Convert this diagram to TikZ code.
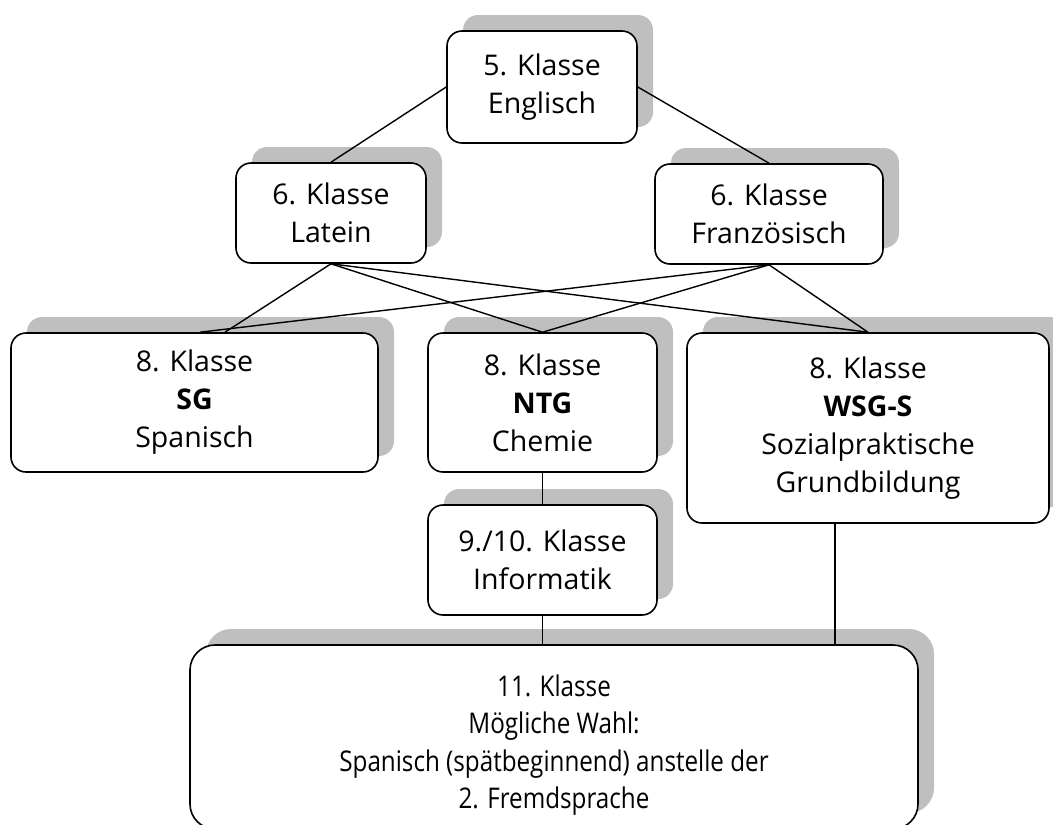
\documentclass[tikz,border=0pt]{standalone}
\usepackage{fontspec}
\setmainfont{Open Sans}
\usetikzlibrary{shadows,calc}
\definecolor{shadowgray}{HTML}{BFBFBF}
\begin{document}
\begin{tikzpicture}[x=1pt,y=-1pt,
  box/.style={draw=black, line width=1.6pt, fill=white, rounded corners=15pt,
    align=center, inner sep=0pt, font=\fontsize{28.5}{38}\selectfont,
    general shadow={fill=shadowgray, draw=none, shadow xshift=16pt, shadow yshift=16pt}},
  txt/.style={align=center, inner sep=0pt, font=\fontsize{28.5}{37.5}\selectfont},
  link/.style={draw=black, line width=1.4pt}]
\clip (0,0) rectangle (1053,825);
\node[box, minimum width=190pt, minimum height=112pt] (k5) at (542,87) {5. Klasse\\Englisch};
\node[box, minimum width=190pt, minimum height=100pt] (lat) at (331,213) {6. Klasse\\Latein};
\node[box, minimum width=228pt, minimum height=100pt] (fra) at (769,214) {6. Klasse\\Französisch};
\node[box, minimum width=367pt, minimum height=139pt] (sg) at (194.5,402.5) {8. Klasse\\\textbf{SG}\\Spanisch};
\node[box, minimum width=229pt, minimum height=139pt] (ntg) at (542.5,402.5) {8. Klasse\\\textbf{NTG}\\Chemie};
\node[box, minimum width=362pt, minimum height=190pt] (wsg) at (868,428) {8. Klasse\\\textbf{WSG-S}\\Sozialpraktische\\Grundbildung};
\node[box, minimum width=229pt, minimum height=110pt] (inf) at (542.5,560) {9./10. Klasse\\Informatik};
\node[box, rounded corners=25pt, minimum width=728pt, minimum height=184pt] (bot) at (554,737) {};
\node[txt] (bottxt) at ($(bot.center)+(0,8)$)
  {\scalebox{0.85}[1]{11. Klasse}\\\scalebox{0.85}[1]{Mögliche Wahl:}\\\scalebox{0.85}[1]{Spanisch (spätbeginnend) anstelle der}\\\scalebox{0.85}[1]{2. Fremdsprache}};

\coordinate (sgL) at ($(sg.north)+(30.5,0)$);
\coordinate (sgF) at ($(sg.north)+(5.5,0)$);
\coordinate (wsgB) at ($(wsg.south)+(-33,0)$);

\draw[link] (k5.west) -- (lat.north);
\draw[link] (k5.east) -- (fra.north);
\draw[link] (lat.south) -- (sgL);
\draw[link] (lat.south) -- (ntg.north);
\draw[link] (lat.south) -- (wsg.north);
\draw[link] (fra.south) -- (sgF);
\draw[link] (fra.south) -- (ntg.north);
\draw[link] (fra.south) -- (wsg.north);
\draw[link] (ntg.south) -- (inf.north);
\draw[link] (inf.south) -- (inf.south |- bot.north);
\draw[link] (wsgB) -- (wsgB |- bot.north);
\end{tikzpicture}
\end{document}
